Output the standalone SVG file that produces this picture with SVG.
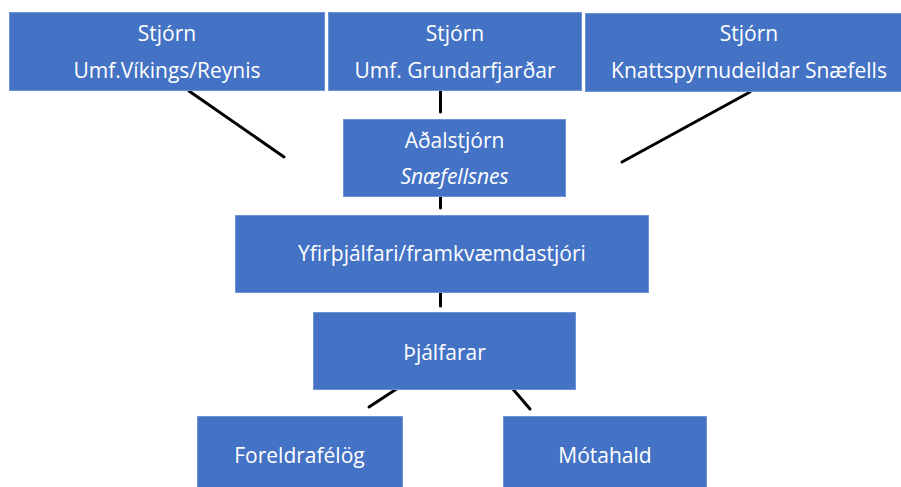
<svg xmlns="http://www.w3.org/2000/svg" width="901" height="487" viewBox="0 0 901 487">
<style>
.box{fill:#4472C4;stroke:#6F93D3;stroke-width:1}
.t{font-family:"Open Sans","Liberation Sans",sans-serif;font-size:21px;fill:#ffffff;text-anchor:middle}
.c{stroke:#000;stroke-width:3;stroke-linecap:round;fill:none}
</style>
<rect width="901" height="487" fill="#ffffff"/>
<g id="connectors">
<line class="c" x1="189" y1="91" x2="284" y2="157"/>
<line class="c" x1="440.5" y1="87" x2="440.5" y2="112"/>
<line class="c" x1="750" y1="92" x2="622" y2="162"/>
<line class="c" x1="440.5" y1="194" x2="440.5" y2="208"/>
<line class="c" x1="440.5" y1="289" x2="440.5" y2="306"/>
<line class="c" x1="398" y1="388" x2="369" y2="407"/>
<line class="c" x1="512" y1="388" x2="530" y2="409"/>
</g>
<g id="n1"><rect class="box" x="9.5" y="12.5" width="315" height="78"/>
<text class="t" x="167" y="41">Stjórn</text><text class="t" x="167" y="78">Umf.Víkings/Reynis</text></g>
<g id="n2"><rect class="box" x="328.5" y="12.5" width="253" height="78"/>
<text class="t" x="455" y="41">Stjórn</text><text class="t" x="455" y="78">Umf. Grundarfjarðar</text></g>
<g id="n3"><rect class="box" x="585.5" y="13.5" width="316" height="78"/>
<text class="t" x="749" y="41">Stjórn</text><text class="t" x="749" y="78">Knattspyrnudeildar Snæfells</text></g>
<g id="n4"><rect class="box" x="343.5" y="119.5" width="222" height="77"/>
<text class="t" x="454.5" y="148">Aðalstjórn</text><text class="t" x="454.5" y="184" font-style="italic">Snæfellsnes</text></g>
<g id="n5"><rect class="box" x="235.5" y="215.5" width="413" height="77"/>
<text class="t" x="442" y="261">Yfirþjálfari/framkvæmdastjóri</text></g>
<g id="n6"><rect class="box" x="313.5" y="312.5" width="262" height="77"/>
<text class="t" x="444.5" y="360">Þjálfarar</text></g>
<g id="n7"><rect class="box" x="197.5" y="416.5" width="205" height="75"/>
<text class="t" x="299.5" y="463">Foreldrafélög</text></g>
<g id="n8"><rect class="box" x="503.5" y="416.5" width="203" height="75"/>
<text class="t" x="605" y="463">Mótahald</text></g>
</svg>
